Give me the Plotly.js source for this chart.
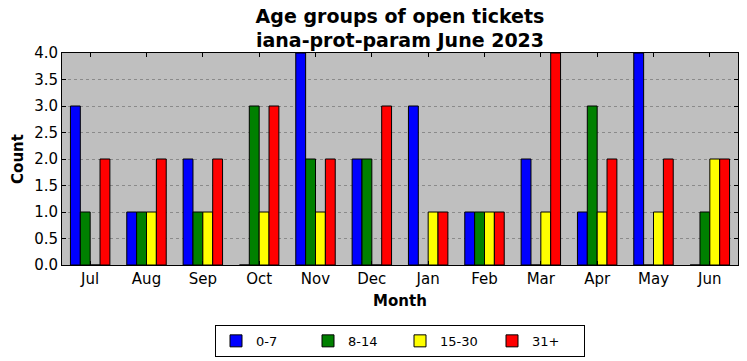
<!DOCTYPE html>
<html>
<head>
<meta charset="utf-8">
<script src="https://cdn.plot.ly/plotly-3.0.1.min.js"></script>
<style>html,body{margin:0;padding:0;background:#fff;}#chart{width:747px;height:361px;}</style>
</head>
<body>
<div id="chart"></div>
<script>
const months = ["Jul","Aug","Sep","Oct","Nov","Dec","Jan","Feb","Mar","Apr","May","Jun"];
const seriesNames = ["0-7","8-14","15-30","31+"];
const age0_7   = [3,1,2,0,4,2,3,1,2,1,4,0];
const age8_14  = [1,1,1,3,2,2,0,1,0,3,0,1];
const age15_30 = [0,1,1,1,1,0,1,1,1,1,1,2];
const age31p   = [2,2,2,3,2,3,1,1,4,2,2,2];
const colors = ["#0000ff","#008000","#ffff00","#ff0000"];
const yTicks = [0,0.5,1,1.5,2,2.5,3,3.5,4];

const allSeries = [age0_7, age8_14, age15_30, age31p];
const traces = allSeries.map((vals, i) => ({
  type: "bar",
  name: seriesNames[i],
  x: months,
  y: vals,
  marker: {color: colors[i], line: {color: "#000", width: 1}}
}));

const font = "DejaVu Sans, sans-serif";
const layout = {
  width: 747, height: 361,
  margin: {l: 62, r: 9, t: 53, b: 96},
  paper_bgcolor: "#ffffff",
  plot_bgcolor: "#bfbfbf",
  font: {family: font, size: 12, color: "#000"},
  barmode: "group",
  bargap: 0.3,
  bargroupgap: 0,
  title: {
    text: "<b>Age groups of open tickets<br>iana-prot-param June 2023</b>",
    font: {family: font, size: 19, color: "#000"},
    x: 0.5, xref: "paper", xanchor: "center",
    y: 0.937, yref: "container", yanchor: "top"
  },
  xaxis: {
    type: "category",
    range: [-0.5, 11.5],
    showline: true, linecolor: "#000", linewidth: 1, mirror: "ticks",
    ticks: "inside", ticklen: 4, tickcolor: "#000",
    showgrid: false,
    tickfont: {family: font, size: 15},
    title: {text: "<b>Month</b>", font: {family: font, size: 15}, standoff: 8}
  },
  yaxis: {
    range: [0, 4],
    tickvals: yTicks,
    ticktext: yTicks.map(v => v.toFixed(1)),
    showline: true, linecolor: "#000", linewidth: 1, mirror: "ticks",
    ticks: "inside", ticklen: 4, tickcolor: "#000",
    showgrid: true, gridcolor: "#8a8a8a", gridwidth: 1, griddash: "dot",
    zeroline: false,
    tickfont: {family: font, size: 15},
    title: {text: "<b>Count</b>", font: {family: font, size: 15}, standoff: 6}
  },
  legend: {
    orientation: "h",
    x: 0.5, xref: "paper", xanchor: "center",
    y: 0.1, yref: "container", yanchor: "top",
    bordercolor: "#000", borderwidth: 1,
    font: {family: font, size: 13},
    traceorder: "normal",
    itemwidth: 30,
    entrywidth: 47, entrywidthmode: "pixels"
  },
  showlegend: true
};

Plotly.newPlot("chart", traces, layout, {displayModeBar: false, staticPlot: true});
</script>
</body>
</html>
